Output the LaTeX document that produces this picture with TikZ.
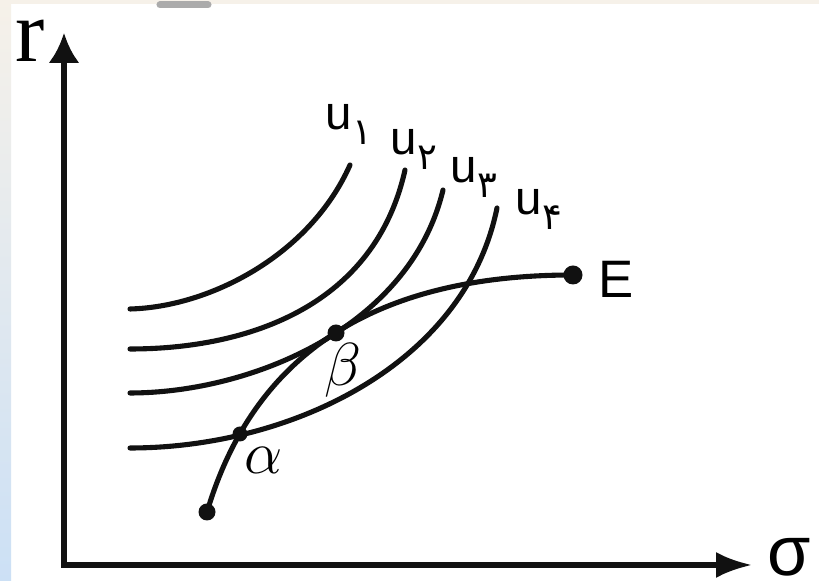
\documentclass[tikz,border=0pt]{standalone}
\usepackage{fontspec}
\setmainfont{Liberation Sans}
\newfontfamily\serifr{Liberation Serif}
\newfontfamily\fadigits[Script=Arabic]{DejaVu Sans}
\usetikzlibrary{arrows.meta}
\definecolor{ink}{HTML}{111111}
\definecolor{paper}{HTML}{F6F1E9}
\definecolor{sky}{HTML}{CCE0F5}
\definecolor{smudge}{HTML}{ABABAB}

\begin{document}
\begin{tikzpicture}[x=0.1mm, y=-0.1mm, >=Latex, line cap=round,
    axis/.style={ink, line width=1.5pt},
    curve/.style={ink, line width=1.45pt},
    pt/.style={circle, fill=ink, inner sep=0pt, minimum size=1.7mm},
    ulab/.style={anchor=base west, inner sep=0pt, font=\fontsize{13.5}{13.5}\selectfont}]
    \useasboundingbox (0,0) rectangle (819,581);
    % page
    \fill[white] (0,0) rectangle (819,581);
    \fill[paper] (0,0) rectangle (819,4);
    \shade[top color=paper, bottom color=sky] (0,0) rectangle (11,581);
    \draw[smudge, line width=2pt] (160,5) -- (208,5);
    % axes
    \coordinate (o) at (64,565);
    \coordinate (ytip) at (64,33);
    \coordinate (xtip) at (752,565);
    \draw[axis, {Latex[length=3mm,width=3.1mm]}-{Latex[length=3.6mm,width=2.6mm]}] (ytip) -- (o) -- (xtip);
    \node[font=\serifr\fontsize{25}{25}\selectfont, anchor=base, inner sep=0pt] (rlab) at (30,62) {r};
    \node[font=\fontsize{20}{20}\selectfont, anchor=base west, inner sep=0pt] (siglab) at (767,576) {σ};
    % indifference curves
    \draw[curve] (130,309) .. controls (210,307) and (310,255) .. (350,165);
    \draw[curve] (130,349) .. controls (250,349) and (375,305) .. (405,170);
    \draw[curve] (130,393) .. controls (250,393) and (410,328) .. (443,190);
    \draw[curve] (130,448) .. controls (290,448) and (465,365) .. (497,208);
    \foreach \x/\y/\d [count=\i] in {325/130/۱, 390/155/۲, 450/183/۳, 515/215/۴}
      \node[ulab] (u\i) at (\x,\y) {u\raisebox{-4pt}{\fadigits\fontsize{10.5}{10.5}\selectfont\d}};
    % frontier
    \node[pt] (start) at (207,512) {};
    \node[pt, minimum size=1.9mm] (E) at (573,275) {};
    \draw[curve] (start.center) .. controls (255,350) and (380,275) .. (E.center);
    \node[pt, minimum size=1.5mm] (alpha) at (240,434) {};
    \node[pt] (beta) at (336,333) {};
    \node[font=\fontsize{18}{18}\selectfont] (alab) at (264,460) {$\alpha$};
    \node[font=\fontsize{17}{17}\selectfont] (blab) at (343,370) {$\beta$};
    \node[anchor=base west, inner sep=0pt, font=\fontsize{15}{15}\selectfont] (elab) at (598,298) {E};
\end{tikzpicture}
\end{document}
